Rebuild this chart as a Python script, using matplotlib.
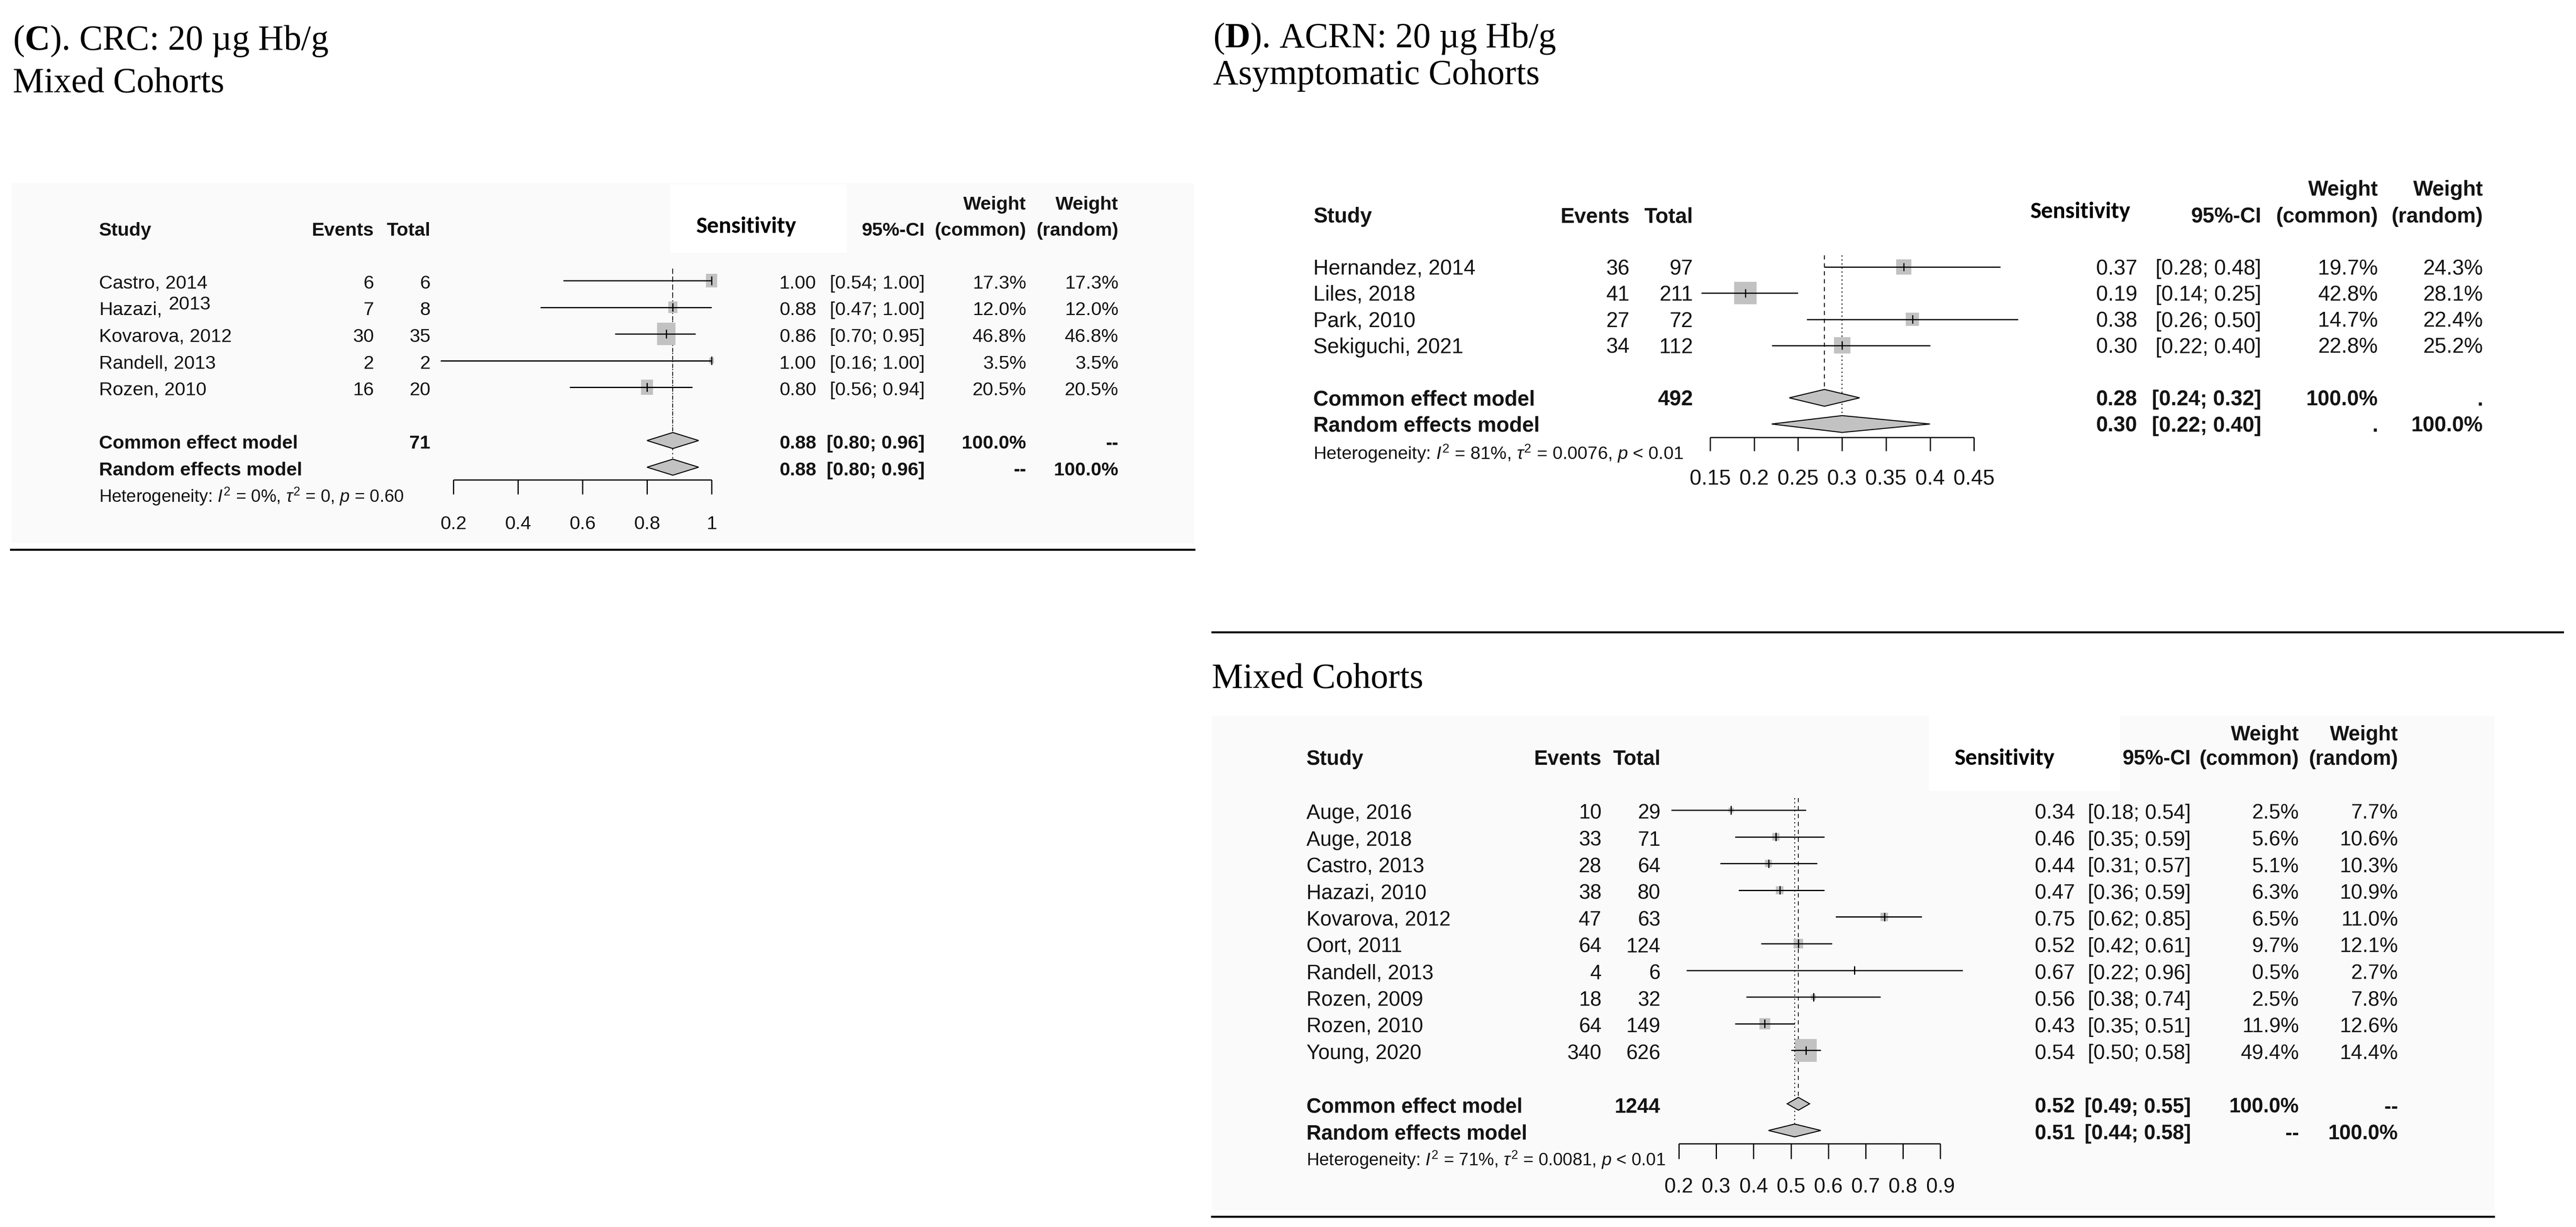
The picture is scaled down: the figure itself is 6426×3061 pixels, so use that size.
import numpy as np
import matplotlib.pyplot as plt
from matplotlib import font_manager
from matplotlib.patches import Rectangle, Polygon
from matplotlib.lines import Line2D

W, H = 6426, 3061

# ---------------------------------------------------------------------------------------
"""(C) CRC 20 ug Hb/g, mixed cohorts"""
c_study = ['Castro, 2014', 'Hazazi, 2013', 'Kovarova, 2012', 'Randell, 2013', 'Rozen, 2010']
c_events = [6, 7, 30, 2, 16]
c_total = [6, 8, 35, 2, 20]
c_sens = [1.00, 0.88, 0.86, 1.00, 0.80]
c_lower = [0.54, 0.47, 0.70, 0.16, 0.56]
c_upper = [1.00, 1.00, 0.95, 1.00, 0.94]
c_w_common = [17.3, 12.0, 46.8, 3.5, 20.5]
c_w_random = [17.3, 12.0, 46.8, 3.5, 20.5]
c_n = 71
c_common = [0.88, 0.80, 0.96]
c_random = [0.88, 0.80, 0.96]
c_model_w = [['100.0%', '--'], ['--', '100.0%']]
c_het = ['0%', '0', '= 0.60']
c_ticks = [0.2, 0.4, 0.6, 0.8, 1.0]
c_ticklabels = ['0.2', '0.4', '0.6', '0.8', '1']

# ---------------------------------------------------------------------------------------
"""(D) ACRN 20 ug Hb/g, asymptomatic cohorts"""
da_study = ['Hernandez, 2014', 'Liles, 2018', 'Park, 2010', 'Sekiguchi, 2021']
da_events = [36, 41, 27, 34]
da_total = [97, 211, 72, 112]
da_sens = [0.37, 0.19, 0.38, 0.30]
da_lower = [0.28, 0.14, 0.26, 0.22]
da_upper = [0.48, 0.25, 0.50, 0.40]
da_w_common = [19.7, 42.8, 14.7, 22.8]
da_w_random = [24.3, 28.1, 22.4, 25.2]
da_n = 492
da_common = [0.28, 0.24, 0.32]
da_random = [0.30, 0.22, 0.40]
da_model_w = [['100.0%', '.'], ['.', '100.0%']]
da_het = ['81%', '0.0076', '< 0.01']
da_ticks = [0.15, 0.2, 0.25, 0.3, 0.35, 0.4, 0.45]
da_ticklabels = ['0.15', '0.2', '0.25', '0.3', '0.35', '0.4', '0.45']

# ---------------------------------------------------------------------------------------
"""(D) ACRN 20 ug Hb/g, mixed cohorts"""
dm_study = ['Auge, 2016', 'Auge, 2018', 'Castro, 2013', 'Hazazi, 2010', 'Kovarova, 2012',
            'Oort, 2011', 'Randell, 2013', 'Rozen, 2009', 'Rozen, 2010', 'Young, 2020']
dm_events = [10, 33, 28, 38, 47, 64, 4, 18, 64, 340]
dm_total = [29, 71, 64, 80, 63, 124, 6, 32, 149, 626]
dm_sens = [0.34, 0.46, 0.44, 0.47, 0.75, 0.52, 0.67, 0.56, 0.43, 0.54]
dm_lower = [0.18, 0.35, 0.31, 0.36, 0.62, 0.42, 0.22, 0.38, 0.35, 0.50]
dm_upper = [0.54, 0.59, 0.57, 0.59, 0.85, 0.61, 0.96, 0.74, 0.51, 0.58]
dm_w_common = [2.5, 5.6, 5.1, 6.3, 6.5, 9.7, 0.5, 2.5, 11.9, 49.4]
dm_w_random = [7.7, 10.6, 10.3, 10.9, 11.0, 12.1, 2.7, 7.8, 12.6, 14.4]
dm_n = 1244
dm_common = [0.52, 0.49, 0.55]
dm_random = [0.51, 0.44, 0.58]
dm_model_w = [['100.0%', '--'], ['--', '100.0%']]
dm_het = ['71%', '0.0081', '< 0.01']
dm_ticks = [0.2, 0.3, 0.4, 0.5, 0.6, 0.7, 0.8, 0.9]
dm_ticklabels = ['0.2', '0.3', '0.4', '0.5', '0.6', '0.7', '0.8', '0.9']

# ---------------------------------------------------------------------------------------
"""fonts"""
installed = {f.name for f in font_manager.fontManager.ttflist}
SANS = ['Liberation Sans', 'DejaVu Sans']
NARROW = ['Liberation Sans Narrow', 'Liberation Sans', 'DejaVu Sans'] if 'Liberation Sans Narrow' in installed else SANS
SERIF = ['Liberation Serif', 'DejaVu Serif']
SENS_FONT = [f for f in ['Carlito', 'Lato', 'Open Sans'] if f in installed] + ['DejaVu Sans']
narrow_scale = 1.0 if 'Liberation Sans Narrow' in installed else 0.85

plt.rcParams['mathtext.fontset'] = 'custom'
plt.rcParams['mathtext.rm'] = 'Liberation Sans'
plt.rcParams['mathtext.it'] = 'Liberation Sans:italic'
plt.rcParams['mathtext.bf'] = 'Liberation Serif:bold'

TXT = '#141414'
GREY = '#c2c2c2'
BG = '#fafafa'


def forest(fig, d, lay):
    """one forest plot, positions of the columns given in figure pixels"""
    x0v, x0p = lay['xref']
    ppu = lay['ppu']
    r0, rp = lay['row0'], lay['rowpx']

    def vx(px):
        return x0v + (px - x0p) / ppu

    def ry(py):
        return (py - r0) / rp

    Lp, Tp, Rp, Bp = lay['box']
    ax = fig.add_axes([Lp / W, 1 - Bp / H, (Rp - Lp) / W, (Bp - Tp) / H])
    ax.set_xlim(vx(Lp), vx(Rp))
    ax.set_ylim(ry(Bp), ry(Tp))
    ax.axis('off')
    ax.patch.set_visible(False)

    fs, fam = lay['fs'], lay['family']

    def put(px, py, s, ha='left', bold=False, size=None):
        return ax.text(vx(px), ry(py), s, ha=ha, va='baseline', fontsize=size or fs, family=fam,
                       fontweight='bold' if bold else 'normal', color=TXT, clip_on=False)

    n = len(d['study'])
    rows = np.arange(n)
    model_rows = [n + 1, n + 2]

    # ---- squares, CIs
    for r, est, w in zip(rows, d['sens'], d['wc']):
        sw = lay['sq'][0] * np.sqrt(w) / ppu
        sh = lay['sq'][1] * np.sqrt(w) / rp
        ax.add_patch(Rectangle((est - sw / 2, r - sh / 2), sw, sh, facecolor=GREY,
                               edgecolor='none', zorder=2))
    ax.hlines(rows, d['lo'], d['hi'], color='black', lw=lay['lw'], zorder=3)
    ax.vlines(d['sens'], rows - 0.16, rows + 0.16, color='black', lw=lay['lw'], zorder=3)

    # ---- pooled diamonds
    hh = lay['dh'] / rp
    for r, (est, lo, hi) in zip(model_rows, [d['common'], d['random']]):
        ax.add_patch(Polygon([(lo, r), (est, r - hh), (hi, r), (est, r + hh)], closed=True,
                             facecolor=GREY, edgecolor='black', lw=1.8, zorder=3))

    # ---- reference lines
    ax.vlines(d['common'][0], -0.45, model_rows[0] - hh, color='black', lw=1.5,
              linestyles=(0, (5, 4.5)), zorder=1)
    ax.vlines(d['random'][0], -0.45, model_rows[1] - hh, color='black', lw=1.5,
              linestyles=(0, (1.6, 3.2)), zorder=1)

    # ---- x axis
    ya, yt, yl = lay['axis']
    ax.hlines(ry(ya), d['ticks'][0], d['ticks'][-1], color='black', lw=lay['lw'])
    ax.vlines(d['ticks'], ry(ya), ry(yt), color='black', lw=lay['lw'])
    for t, lab in zip(d['ticks'], d['ticklabels']):
        ax.text(t, ry(yl), lab, ha='center', va='baseline', fontsize=fs, family=fam, color=TXT)

    # ---- header
    h1, h2 = lay['head']
    put(lay['study_x'], h2, 'Study', bold=True)
    put(lay['events_r'], h2, 'Events', ha='right', bold=True)
    put(lay['total_r'], h2, 'Total', ha='right', bold=True)
    sx, sy = lay['sens_pos']
    ax.text(vx(sx), ry(sy), 'Sensitivity', ha='left', va='baseline', fontsize=lay['sens_fs'],
            family=SENS_FONT, fontweight='bold', color='black', clip_on=False)
    put(lay['ci_r'], h2, '95%-CI', ha='right', bold=True)
    put(lay['wc_r'], h1, 'Weight', ha='right', bold=True)
    put(lay['wc_r'], h2, '(common)', ha='right', bold=True)
    put(lay['wr_r'], h1, 'Weight', ha='right', bold=True)
    put(lay['wr_r'], h2, '(random)', ha='right', bold=True)

    # ---- study rows
    for r, name, e, tot, est, lo, hi, wc, wr in zip(rows, d['study'], d['events'], d['total'],
                                                   d['sens'], d['lo'], d['hi'], d['wc'], d['wr']):
        yb = r0 + r * rp + lay['base']
        if name in lay.get('raised', {}):
            first, second = name.split(' ')
            t1 = put(lay['study_x'], yb, first)
            ax.annotate(second, xy=(1, 0), xycoords=t1, xytext=(16, lay['raised'][name]),
                        textcoords='offset pixels', ha='left', va='bottom', fontsize=fs,
                        family=fam, color=TXT)
        else:
            put(lay['study_x'], yb, name)
        put(lay['events_r'], yb, str(e), ha='right')
        put(lay['total_r'], yb, str(tot), ha='right')
        put(lay['est_r'], yb, '{:.2f}'.format(est), ha='right')
        put(lay['ci_r'], yb, '[{:.2f}; {:.2f}]'.format(lo, hi), ha='right')
        put(lay['wc_r'], yb, '{:.1f}%'.format(wc), ha='right')
        put(lay['wr_r'], yb, '{:.1f}%'.format(wr), ha='right')

    # ---- pooled rows
    labels = ['Common effect model', 'Random effects model']
    for k, (r, lab, (est, lo, hi)) in enumerate(zip(model_rows, labels, [d['common'], d['random']])):
        yb = r0 + r * rp + lay['base']
        put(lay['study_x'], yb, lab, bold=True)
        if k == 0:
            put(lay['total_r'], yb, str(d['n']), ha='right', bold=True)
        put(lay['est_r'], yb, '{:.2f}'.format(est), ha='right', bold=True)
        put(lay['ci_r'], yb, '[{:.2f}; {:.2f}]'.format(lo, hi), ha='right', bold=True)
        put(lay['wc_r'], yb, d['model_w'][k][0], ha='right', bold=True)
        put(lay['wr_r'], yb, d['model_w'][k][1], ha='right', bold=True)

    i2, tau2, p = d['het']
    put(lay['study_x'], lay['het_y'],
        r'Heterogeneity: $I^2$ = ' + i2 + r', $\tau^2$ = ' + tau2 + r', $p$ ' + p,
        size=lay['het_fs'])
    return ax


def title(fig, x, y, s, size=63):
    fig.text(x / W, 1 - y / H, s, ha='left', va='baseline', fontsize=size, family=SERIF, color='black')


def rule(fig, x0, x1, y):
    fig.add_artist(Line2D([x0 / W, x1 / W], [1 - y / H, 1 - y / H], transform=fig.transFigure,
                          color='black', lw=3.6))


def shade(fig, x0, y0, x1, y1, color):
    fig.add_artist(Rectangle((x0 / W, 1 - y1 / H), (x1 - x0) / W, (y1 - y0) / H,
                             transform=fig.transFigure, facecolor=color, edgecolor='none', zorder=-1))


fig = plt.figure(figsize=(W / 100, H / 100), dpi=100)
fig.patch.set_facecolor('white')

# ---------------------------------------------------------------------------------------
"""panel C"""
shade(fig, 29, 457, 2979, 1355, BG)
shade(fig, 1672, 460, 2112, 631, 'white')
title(fig, 32, 124, r'($\mathbf{C}$). CRC: 20 µg Hb/g')
title(fig, 32, 230, 'Mixed Cohorts')
forest(fig,
       dict(study=c_study, events=c_events, total=c_total, sens=c_sens, lo=c_lower, hi=c_upper,
            wc=c_w_common, wr=c_w_random, n=c_n, common=c_common, random=c_random,
            model_w=c_model_w, het=c_het, ticks=c_ticks, ticklabels=c_ticklabels),
       dict(box=(0, 400, 3000, 1400), xref=(0.2, 1131), ppu=805, row0=700, rowpx=66.5, base=20,
            fs=40 * narrow_scale, het_fs=37 * narrow_scale, family=NARROW, sens_fs=42,
            study_x=247, events_r=933, total_r=1074, sens_pos=(1737, 581), est_r=2036, ci_r=2307,
            wc_r=2560, wr_r=2790, head=(523, 588), het_y=1254, axis=(1197, 1233, 1320),
            sq=(6.72, 8.33), dh=20, lw=2.2, raised={'Hazazi, 2013': 14}))
rule(fig, 27, 2979, 1371)

# ---------------------------------------------------------------------------------------
"""panel D, asymptomatic"""
title(fig, 3026, 118, r'($\mathbf{D}$). ACRN: 20 µg Hb/g')
title(fig, 3026, 210, 'Asymptomatic Cohorts')
forest(fig,
       dict(study=da_study, events=da_events, total=da_total, sens=da_sens, lo=da_lower, hi=da_upper,
            wc=da_w_common, wr=da_w_random, n=da_n, common=da_common, random=da_random,
            model_w=da_model_w, het=da_het, ticks=da_ticks, ticklabels=da_ticklabels),
       dict(box=(3000, 400, 6426, 1560), xref=(0.15, 4266), ppu=2194, row0=666, rowpx=65.3, base=19,
            fs=38, het_fs=32.5, family=SANS, sens_fs=42,
            study_x=3276, events_r=4065, total_r=4223, sens_pos=(5065, 544), est_r=5332, ci_r=5641,
            wc_r=5932, wr_r=6194, head=(488, 555), het_y=1147, axis=(1091, 1125, 1209),
            sq=(8.56, 8.56), dh=21, lw=2.2))
rule(fig, 3024, 6393, 1577)

# ---------------------------------------------------------------------------------------
"""panel D, mixed"""
shade(fig, 3023, 1786, 6223, 3020, BG)
shade(fig, 4812, 1786, 5288, 1973, 'white')
title(fig, 3023, 1716, 'Mixed Cohorts')
forest(fig,
       dict(study=dm_study, events=dm_events, total=dm_total, sens=dm_sens, lo=dm_lower, hi=dm_upper,
            wc=dm_w_common, wr=dm_w_random, n=dm_n, common=dm_common, random=dm_random,
            model_w=dm_model_w, het=dm_het, ticks=dm_ticks, ticklabels=dm_ticklabels),
       dict(box=(3000, 1760, 6426, 3040), xref=(0.2, 4188), ppu=932, row0=2021, rowpx=66.6, base=22,
            fs=37, het_fs=31.5, family=SANS, sens_fs=42,
            study_x=3259, events_r=3995, total_r=4142, sens_pos=(4876, 1908), est_r=5176, ci_r=5465,
            wc_r=5735, wr_r=5982, head=(1847, 1908), het_y=2909, axis=(2853, 2891, 2975),
            sq=(7.7, 8.0), dh=16, lw=2.2))
rule(fig, 3023, 6221, 3035)

fig.savefig('out.png', dpi=100, facecolor='white')
